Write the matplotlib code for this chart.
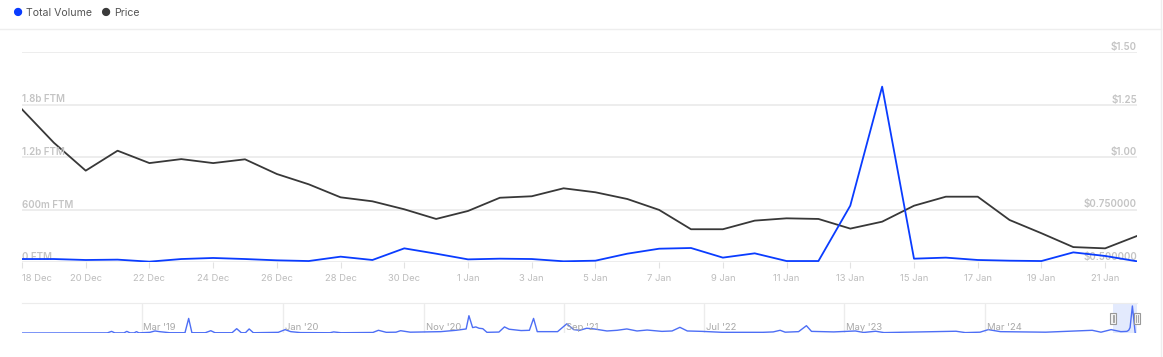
import numpy as np
import pandas as pd
import matplotlib
matplotlib.use("Agg")
import matplotlib.pyplot as plt
import matplotlib.dates as mdates
import matplotlib.transforms as mtransforms
from matplotlib.patches import Rectangle
from matplotlib.lines import Line2D

plt.rcParams['font.family'] = ['Inter', 'DejaVu Sans']

# ---- data ----
dates = pd.date_range("2024-12-18", "2025-01-22", freq="D")

# total volume, billions of FTM
volume = [0.034, 0.034, 0.023, 0.027, 0.004, 0.034, 0.046, 0.034, 0.019, 0.011,
          0.061, 0.023, 0.156, 0.095, 0.030, 0.038, 0.034, 0.008, 0.015, 0.095,
          0.152, 0.160, 0.050, 0.099, 0.011, 0.011, 0.644, 2.004, 0.038, 0.050,
          0.023, 0.015, 0.011, 0.110, 0.069, 0.008]

# price, USD
price = [1.227, 1.068, 0.935, 1.030, 0.971, 0.990, 0.971, 0.989, 0.919, 0.870,
         0.808, 0.789, 0.751, 0.705, 0.743, 0.806, 0.813, 0.851, 0.832, 0.800,
         0.748, 0.656, 0.656, 0.697, 0.708, 0.705, 0.659, 0.692, 0.768, 0.811,
         0.811, 0.700, 0.637, 0.571, 0.565, 0.624]

vol_ticks = [0, 0.6, 1.2, 1.8]
vol_labels = ["0 FTM", "600m FTM", "1.2b FTM", "1.8b FTM"]
price_ticks = [0.5, 0.75, 1.0, 1.25, 1.5]
price_labels = ["$0.500000", "$0.750000", "$1.00", "$1.25", "$1.50"]

# navigator (full history of volume, billions)
nav_dates = ["2018-06-15", "2018-12-17", "2018-12-26", "2019-01-02", "2019-01-22",
             "2019-01-28", "2019-02-04", "2019-02-13", "2019-02-18", "2019-02-23",
             "2019-03-19", "2019-03-30", "2019-04-09", "2019-05-01", "2019-06-03",
             "2019-06-11", "2019-06-18", "2019-07-17", "2019-07-29", "2019-08-07",
             "2019-09-13", "2019-09-23", "2019-10-03", "2019-10-12", "2019-10-20",
             "2019-10-29", "2019-12-22", "2020-01-06", "2020-01-18", "2020-02-08",
             "2020-04-12", "2020-04-20", "2020-05-06", "2020-07-14", "2020-07-26",
             "2020-08-12", "2020-09-02", "2020-09-12", "2020-10-03", "2020-12-08",
             "2021-01-10", "2021-02-01", "2021-02-07", "2021-02-15", "2021-02-22",
             "2021-03-01", "2021-03-09", "2021-03-18", "2021-04-13", "2021-04-25",
             "2021-05-05", "2021-05-31", "2021-06-18", "2021-06-27", "2021-07-05",
             "2021-08-18", "2021-09-07", "2021-09-22", "2021-10-05", "2021-10-20",
             "2021-11-05", "2021-12-03", "2021-12-25", "2022-01-15", "2022-02-06",
             "2022-02-28", "2022-04-01", "2022-04-23", "2022-05-10", "2022-05-26",
             "2022-06-27", "2022-08-10", "2022-11-06", "2022-11-28", "2022-12-13",
             "2022-12-24", "2023-01-22", "2023-02-08", "2023-02-19", "2023-04-08",
             "2023-05-25", "2023-06-12", "2023-07-08", "2023-07-26", "2023-12-29",
             "2024-01-18", "2024-02-19", "2024-03-08", "2024-04-03", "2024-07-10",
             "2024-10-19", "2024-11-07", "2024-11-29", "2024-12-20", "2025-01-02",
             "2025-01-06", "2025-01-09", "2025-01-14", "2025-01-20"]
nav_volume = [0.0, 0.01, 0.12, 0.01, 0.01,
              0.12, 0.01, 0.01, 0.10, 0.01,
              0.05, 0.15, 0.10, 0.02, 0.02,
              1.08, 0.02, 0.02, 0.17, 0.02,
              0.02, 0.32, 0.02, 0.02, 0.30,
              0.02, 0.05, 0.25, 0.10, 0.03,
              0.02, 0.08, 0.02, 0.04, 0.20,
              0.05, 0.06, 0.17, 0.06, 0.10,
              0.20, 0.30, 1.28, 0.40, 0.45,
              0.35, 0.32, 0.05, 0.07, 0.45,
              0.28, 0.18, 0.20, 1.08, 0.10,
              0.10, 0.68, 0.25, 0.20, 0.35,
              0.30, 0.15, 0.20, 0.30, 0.15,
              0.22, 0.12, 0.15, 0.42, 0.15,
              0.12, 0.05, 0.05, 0.08, 0.20,
              0.06, 0.10, 0.54, 0.12, 0.08,
              0.15, 0.04, 0.13, 0.03, 0.13,
              0.03, 0.06, 0.25, 0.10, 0.06,
              0.20, 0.06, 0.25, 0.10, 0.12,
              0.20, 0.40, 2.00, 0.04]
nav_labels = ["2019-03-01", "2020-01-01", "2020-11-01", "2021-09-01",
              "2022-07-01", "2023-05-01", "2024-03-01"]

# ---- figure ----
W, H = 1163, 357
fig = plt.figure(figsize=(W / 100, H / 100), dpi=100)

def px_axes(x0, y0, x1, y1):
    return fig.add_axes([x0 / W, 1 - y1 / H, (x1 - x0) / W, (y1 - y0) / H])

BLUE = "#0a3cff"
DARK = "#383838"
GRID = "#ececec"
LABEL = "#c4c4c4"

# frame lines of the card
fig.add_artist(Line2D([0, 1161 / W], [1 - 29 / H] * 2, color="#eeeeee", lw=1))
fig.add_artist(Line2D([1161 / W] * 2, [0, 1], color="#eeeeee", lw=1))

# legend
fig.text(12 / W, 1 - 13 / H, "\u25cf", color=BLUE, fontsize=8, va="center")
fig.text(26 / W, 1 - 13 / H, "Total Volume", color="#555555", fontsize=7.6, va="center")
fig.text(100 / W, 1 - 13 / H, "\u25cf", color="#3a3a3a", fontsize=8, va="center")
fig.text(114 / W, 1 - 13 / H, "Price", color="#555555", fontsize=7.6, va="center")

# main axes: price on right scale, volume on left scale
ax = px_axes(22, 52, 1137, 262)
ax2 = ax.twinx()
for a in (ax, ax2):
    for s in a.spines.values():
        s.set_visible(False)
    a.set_yticks([])

ax.set_ylim(0, 2.4)
ax2.set_ylim(0.5, 1.5)
ax.set_xlim(dates[0], dates[-1])

for p in price_ticks:
    ax2.axhline(p, color=GRID, lw=1.3, zorder=0)

trans_l = mtransforms.blended_transform_factory(ax.transAxes, ax.transData)
for v, lab in zip(vol_ticks, vol_labels):
    ax.text(0, v, lab, transform=trans_l, ha="left", va="bottom", fontsize=7,
            color=LABEL, fontweight="semibold")
trans_r = mtransforms.blended_transform_factory(ax2.transAxes, ax2.transData)
for p, lab in zip(price_ticks, price_labels):
    ax2.text(1, p, lab, transform=trans_r, ha="right", va="bottom", fontsize=7,
             color=LABEL, fontweight="semibold")

ax2.plot(dates, price, color=DARK, lw=1.3, zorder=3)
ax.plot(dates, volume, color=BLUE, lw=1.3, zorder=4)
ax.set_zorder(ax2.get_zorder() + 1)
ax.patch.set_visible(False)

tick_dates = dates[::2]
ax.set_xticks(tick_dates)
ax.set_xticklabels([f"{d.day} {d.strftime('%b')}" for d in tick_dates])
ax.tick_params(axis="x", length=4.3, width=0.8, color="#e2e2e2", pad=4,
               labelsize=6.8, labelcolor="#bdbdbd")
ax.get_xticklabels()[0].set_ha("left")

# navigator
nav = px_axes(22, 303, 1137, 333)
nd = pd.to_datetime(nav_dates)
nav.plot(nd, nav_volume, color="#4d6ef5", lw=1.0, zorder=3)
nav.set_xlim(pd.Timestamp("2018-06-15"), pd.Timestamp("2025-01-24"))
nav.set_ylim(0, 2.22)
for s in nav.spines.values():
    s.set_visible(False)
nav.spines["top"].set_visible(True)
nav.spines["top"].set_color(GRID)
nav.set_xticks([])
nav.set_yticks([])
for d in nav_labels:
    t = pd.Timestamp(d)
    nav.axvline(t, color=GRID, lw=1, zorder=0)
    nav.text(t + pd.Timedelta(days=4), 0.17, t.strftime("%b '%y"),
             transform=mtransforms.blended_transform_factory(nav.transData, nav.transAxes),
             fontsize=6.8, color="#a8a8a8", va="center", ha="left")

# selected range (navigator keeps a minimum width)
sel0 = dates[0] - pd.Timedelta(days=14)
sel1 = dates[-1] + pd.Timedelta(days=2)
nav.axvspan(sel0, sel1, ymin=0, ymax=1, color="#dfe7fd", alpha=0.85, zorder=1, lw=0)
tb = mtransforms.blended_transform_factory(nav.transData, nav.transAxes)
for edge in (sel0, sel1):
    x0 = mdates.date2num(edge) - 6.5
    nav.add_patch(Rectangle((x0, 0.3), 13, 0.37, transform=tb, facecolor="#f4f4f4",
                            edgecolor="#999999", lw=0.8, zorder=5, clip_on=False))
    nav.add_line(Line2D([x0 + 5, x0 + 5], [0.38, 0.6], transform=tb, color="#999999",
                        lw=0.6, zorder=6, clip_on=False))
    nav.add_line(Line2D([x0 + 8, x0 + 8], [0.38, 0.6], transform=tb, color="#999999",
                        lw=0.6, zorder=6, clip_on=False))

fig.savefig("out.png", dpi=100)
